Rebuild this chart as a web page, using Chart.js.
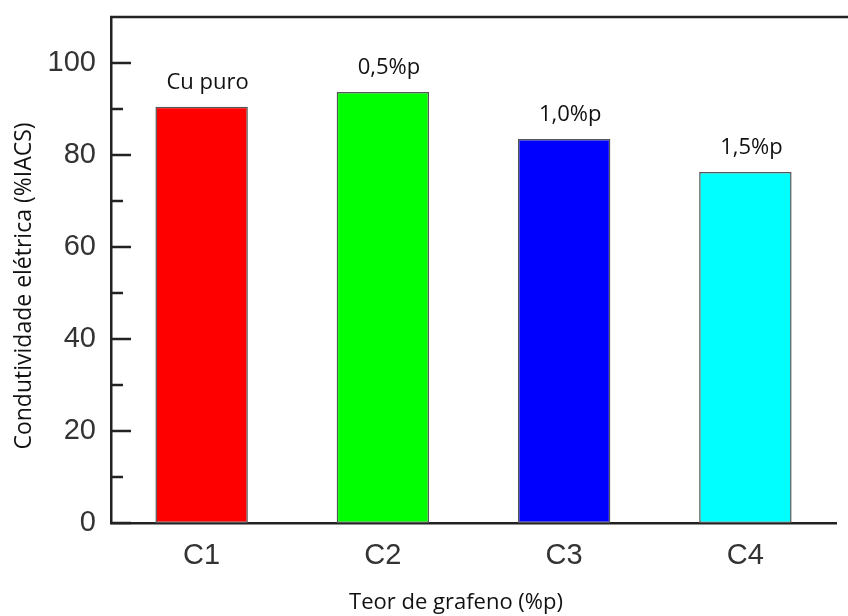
<!DOCTYPE html>
<html>
<head>
<meta charset="utf-8">
<script src="https://cdn.jsdelivr.net/npm/chart.js@4/dist/chart.umd.min.js"></script>
<style>
  html, body { margin: 0; padding: 0; background: #fff; }
  #wrap { width: 848px; height: 616px; position: relative; }
</style>
</head>
<body>
<div id="wrap"><canvas id="chart"></canvas></div>
<script>
// Data
const categories = ['C1', 'C2', 'C3', 'C4']
const conductivity = [90.5, 93.7, 83.5, 76.3]
const barLabels = ['Cu puro', '0,5%p', '1,0%p', '1,5%p']
const barColors = ['#ff0000', '#00ff00', '#0000ff', '#00ffff']
const yTicks = [0, 20, 40, 60, 80, 100]

const xTitle = 'Teor de grafeno (%p)'
const yTitle = 'Condutividade elétrica (%IACS)'

// Inward tick marks, top frame line, bar labels and axis titles
const decorPlugin = {
  id: 'decor',
  afterDatasetsDraw(chart) {
    const { ctx, chartArea, scales } = chart
    const y = scales.y
    ctx.save()
    ctx.strokeStyle = '#222'
    ctx.lineWidth = 2.5
    // top frame line
    ctx.beginPath()
    ctx.moveTo(chartArea.left - 1, chartArea.top)
    ctx.lineTo(chart.width, chartArea.top)
    ctx.stroke()
    // ticks pointing into the plot
    for (let v = 0; v < 110; v += 10) {
      const py = Math.round(y.getPixelForValue(v))
      const len = yTicks.includes(v) ? 20 : 12
      ctx.beginPath()
      ctx.moveTo(chartArea.left, py)
      ctx.lineTo(chartArea.left + len, py)
      ctx.stroke()
    }
    // labels above bars
    ctx.fillStyle = '#111'
    ctx.font = '22px "Open Sans"'
    ctx.textAlign = 'center'
    ctx.textBaseline = 'alphabetic'
    chart.getDatasetMeta(0).data.forEach((bar, i) => {
      ctx.fillText(barLabels[i], bar.x + 6, bar.y - 18)
    })
    // axis titles
    ctx.font = '22px "Open Sans"'
    ctx.textBaseline = 'middle'
    ctx.fillText(xTitle, 456, 603)
    ctx.font = '23px "Open Sans"'
    ctx.translate(24, 286)
    ctx.rotate(-Math.PI / 2)
    ctx.fillText(yTitle, 0, 0)
    ctx.restore()
  }
}

new Chart(document.getElementById('chart'), {
  type: 'bar',
  data: {
    labels: categories,
    datasets: [{
      data: conductivity,
      backgroundColor: barColors,
      borderColor: '#555',
      borderWidth: 1.5,
      borderSkipped: false,
      barPercentage: 0.51,
      categoryPercentage: 1
    }]
  },
  options: {
    responsive: true,
    maintainAspectRatio: false,
    animation: false,
    layout: { padding: { left: 0, top: 17, right: 12, bottom: 0 } },
    plugins: {
      legend: { display: false },
      tooltip: { enabled: false }
    },
    scales: {
      x: {
        offset: true,
        grid: { display: false, drawTicks: false },
        border: { display: true, color: '#222', width: 2.5 },
        ticks: {
          color: '#333',
          padding: 16,
          font: { family: '"Liberation Sans", Arial', size: 29 }
        },
        afterFit(scale) {
          scale.height = 93
          scale.paddingLeft = 0
          scale.paddingRight = 0
        }
      },
      y: {
        min: 0,
        max: 110,
        grid: { display: false, drawTicks: false },
        border: { display: true, color: '#222', width: 2.5 },
        ticks: {
          stepSize: 10,
          autoSkip: false,
          color: '#333',
          padding: 15,
          font: { family: '"Liberation Sans", Arial', size: 29 },
          callback: v => (yTicks.includes(v) ? v : '')
        },
        afterFit(scale) {
          scale.width = 111
          scale.paddingTop = 0
          scale.paddingBottom = 0
        }
      }
    }
  },
  plugins: [decorPlugin]
})
</script>
</body>
</html>
